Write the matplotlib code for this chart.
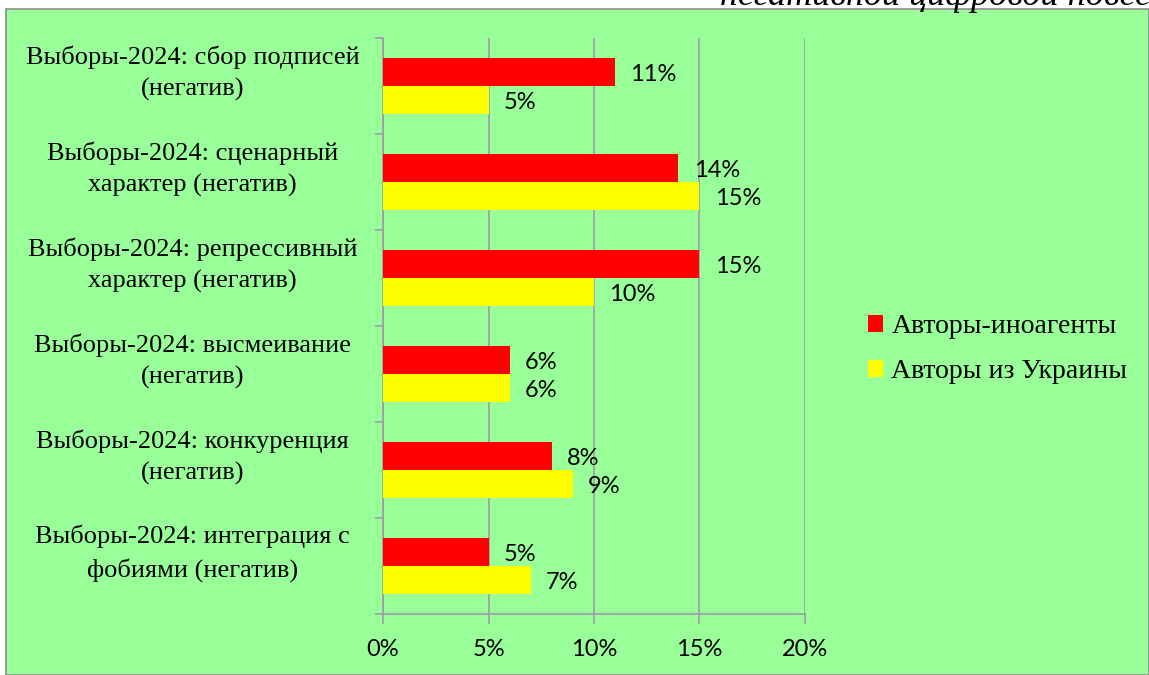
import matplotlib
matplotlib.use("Agg")
import matplotlib.pyplot as plt
from matplotlib.patches import Rectangle, Patch
import numpy as np

categories = [
    "Выборы-2024: сбор подписей\n(негатив)",
    "Выборы-2024: сценарный\nхарактер (негатив)",
    "Выборы-2024: репрессивный\nхарактер (негатив)",
    "Выборы-2024: высмеивание\n(негатив)",
    "Выборы-2024: конкуренция\n(негатив)",
    "Выборы-2024: интеграция с\nфобиями (негатив)",
]
inoagents = [11, 14, 15, 6, 8, 5]
ukraine = [5, 15, 10, 6, 9, 7]
series_names = ["Авторы-иноагенты", "Авторы из Украины"]
xticks = [0, 5, 10, 15, 20]
title_text = "негативной цифровой повестки"

W, H = 1149, 675
fig = plt.figure(figsize=(W / 100, H / 100), dpi=100)
fig.patch.set_facecolor("white")

bg_green = "#99ff99"
fig.patches.append(Rectangle((6 / W, 0), 1 - 6 / W, 1 - 9 / H, transform=fig.transFigure,
                             facecolor=bg_green, edgecolor="#8c8c8c", linewidth=1.2, zorder=-10))

fig.text(720 / W, 1 - 5 / H, title_text, fontfamily="Liberation Serif", fontstyle="italic",
         fontsize=26, ha="left", va="baseline")

ax = fig.add_axes([383 / W, 1 - 614 / H, (805 - 383) / W, (614 - 38) / H])
ax.set_facecolor("none")

y = np.arange(len(categories))
h = 0.29
ax.barh(y - h / 2, inoagents, height=h, color="#ff0000", zorder=3)
ax.barh(y + h / 2, ukraine, height=h, color="#ffff00", zorder=3)

lab_font = dict(fontfamily="Lato", fontsize=17, color="black")
for i, v in enumerate(inoagents):
    ax.annotate(f"{v}%", (v, i - h / 2), xytext=(11, -1.5), textcoords="offset points",
                va="center", ha="left", **lab_font)
for i, v in enumerate(ukraine):
    ax.annotate(f"{v}%", (v, i + h / 2), xytext=(11, -1.5), textcoords="offset points",
                va="center", ha="left", **lab_font)

ax.set_xlim(0, 20)
ax.set_ylim(len(categories) - 0.5, -0.5)
ax.set_xticks(xticks)
ax.set_xticklabels([f"{t}%" for t in xticks], fontfamily="Lato", fontsize=17)
ax.grid(axis="x", color="#a09aa8", linewidth=1.2, zorder=0)
ax.set_axisbelow(True)

ax.set_yticks(np.arange(-0.5, len(categories), 1.0))
ax.set_yticklabels([])
ax.set_yticks(y - 0.21, minor=True)
ax.set_yticklabels(categories, minor=True, fontfamily="Liberation Serif", fontsize=19,
                   ha="center", linespacing=1.5)
ax.tick_params(axis="y", which="minor", length=0, pad=137)
ax.tick_params(axis="y", which="major", length=6, color="#a09aa8", width=1.2)
ax.tick_params(axis="x", length=7, color="#a09aa8", width=1.2, pad=11)

for s in ["top", "right"]:
    ax.spines[s].set_visible(False)
for s in ["left", "bottom"]:
    ax.spines[s].set_color("#a09aa8")
    ax.spines[s].set_linewidth(1.2)

handles = [Patch(facecolor="#ff0000"), Patch(facecolor="#ffff00")]
fig.legend(handles, series_names, loc="center left", bbox_to_anchor=(851 / W, 1 - 349 / H),
           frameon=False, prop={"family": "Liberation Serif", "size": 20},
           handlelength=0.55, handleheight=0.55, handletextpad=0.3, labelspacing=0.72,
           borderpad=0.1)

fig.savefig("out.png", dpi=100, facecolor=fig.get_facecolor())
